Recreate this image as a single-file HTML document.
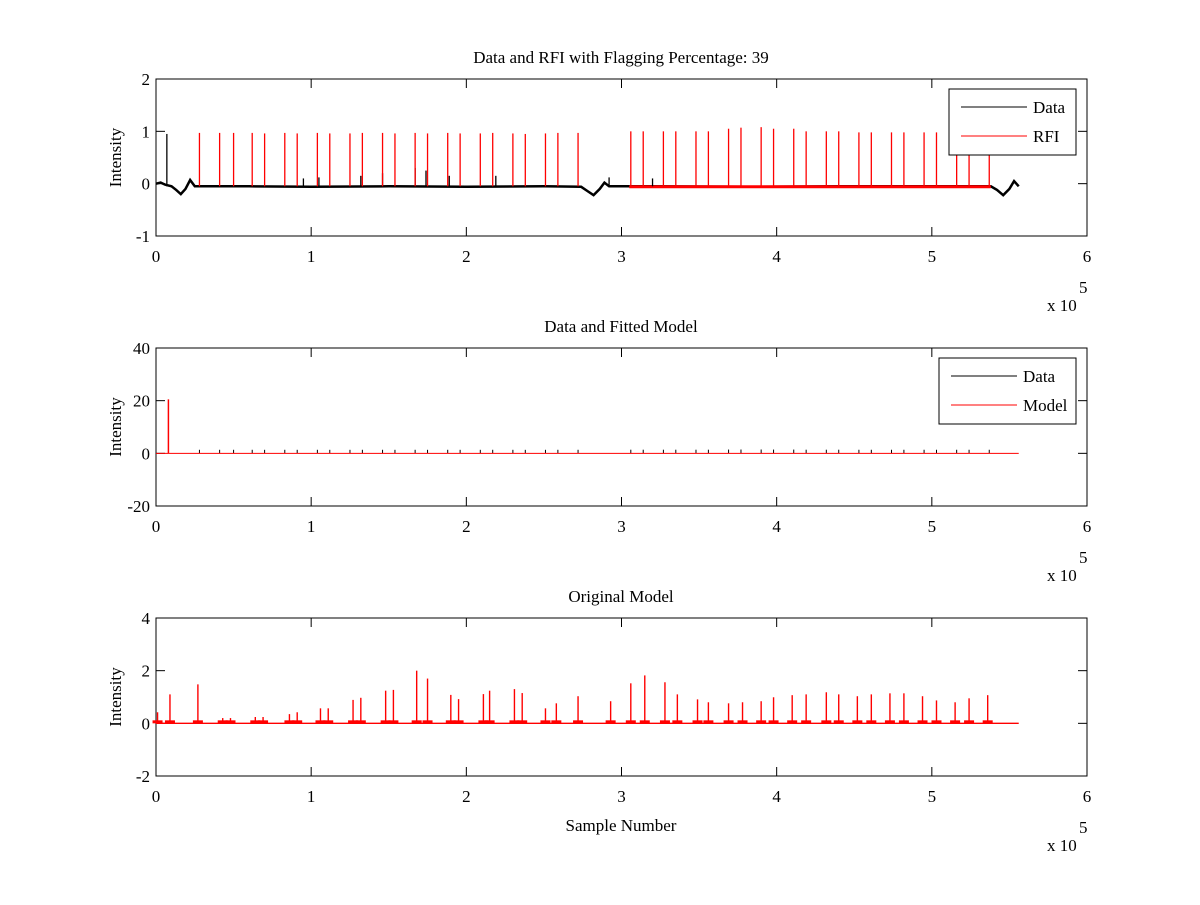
<!DOCTYPE html>
<html><head><meta charset="utf-8"><style>
body{margin:0;background:#fff}
svg text{font-family:"Liberation Serif",serif;font-size:17px;fill:#000}
</style></head><body>
<svg id="fig" width="1200" height="900" viewBox="0 0 1200 900" xmlns="http://www.w3.org/2000/svg">
<rect width="1200" height="900" fill="#fff"/>
<g id="root"></g>
</svg>
<script>
// ---- data (x in units of 1e5 samples) ----
const rfiX = [0.28,0.41,0.50,0.62,0.70,0.83,0.91,1.04,1.12,1.25,1.33,1.46,1.54,1.67,1.75,1.88,1.96,2.09,2.17,2.30,2.38,2.51,2.59,2.72,3.06,3.14,3.27,3.35,3.48,3.56,3.69,3.77,3.90,3.98,4.11,4.19,4.32,4.40,4.53,4.61,4.74,4.82,4.95,5.03,5.16,5.24,5.37];
const rfiY = [0.97,0.97,0.97,0.97,0.96,0.97,0.96,0.97,0.96,0.96,0.97,0.97,0.96,0.97,0.96,0.97,0.96,0.96,0.97,0.96,0.95,0.96,0.97,0.97,1.0,1.0,1.0,1.0,1.0,1.0,1.05,1.07,1.08,1.05,1.05,1.0,1.0,1.0,0.98,0.98,0.98,0.98,0.98,0.98,0.98,0.98,0.98];
const baseX = [0,0.03,0.06,0.10,0.13,0.16,0.19,0.22,0.25,0.6,1.0,1.5,2.0,2.5,2.74,2.78,2.82,2.86,2.89,2.92,3.2,3.8,4.4,5.0,5.38,5.42,5.46,5.50,5.53,5.56];
const baseY = [0.0,0.02,-0.02,-0.05,-0.12,-0.2,-0.1,0.07,-0.05,-0.05,-0.06,-0.05,-0.06,-0.05,-0.06,-0.14,-0.22,-0.1,0.02,-0.05,-0.05,-0.06,-0.05,-0.05,-0.05,-0.12,-0.22,-0.1,0.05,-0.05];
const blackSpikeX = [0.07,0.95,1.05,1.32,1.46,1.67,1.74,1.89,2.19,2.92,3.2];
const blackSpikeY = [0.95,0.1,0.12,0.15,0.2,0.3,0.25,0.15,0.15,0.12,0.1];
const modelSpikeX = [0.08];
const modelSpikeY = [20.5];
const peakX = [0.01,0.09,0.27,0.43,0.48,0.64,0.69,0.86,0.91,1.06,1.11,1.27,1.32,1.48,1.53,1.68,1.75,1.90,1.95,2.11,2.15,2.31,2.36,2.51,2.58,2.72,2.93,3.06,3.15,3.28,3.36,3.49,3.56,3.69,3.78,3.90,3.98,4.10,4.19,4.32,4.40,4.52,4.61,4.73,4.82,4.94,5.03,5.15,5.24,5.36];
const peakY = [0.42,1.1,1.48,0.2,0.2,0.24,0.24,0.35,0.42,0.57,0.57,0.89,0.97,1.24,1.27,2.0,1.7,1.08,0.92,1.11,1.24,1.30,1.15,0.57,0.76,1.03,0.84,1.52,1.82,1.56,1.10,0.91,0.80,0.76,0.80,0.84,0.99,1.07,1.10,1.18,1.10,1.03,1.10,1.14,1.14,1.03,0.87,0.80,0.95,1.07];
const xTicks = [0,1,2,3,4,5,6];

const NS="http://www.w3.org/2000/svg", root=document.getElementById('root');
function mk(tag, attrs, parent){const e=document.createElementNS(NS,tag);for(const k in attrs)e.setAttribute(k,attrs[k]);(parent||root).appendChild(e);return e;}
const X0=156,X1=1087;
const sx = v => X0 + (v/6)*(X1-X0);

function axes(name, top, bot, ymin, ymax, yticks, title){
  const g=mk('g',{});
  
  
  const sy = v => bot - (v-ymin)/(ymax-ymin)*(bot-top);
  const fr=mk('rect',{x:X0,y:top,width:X1-X0,height:bot-top,fill:'none',stroke:'#000','stroke-width':1},g);
  
  
  xTicks.forEach(t=>{
    const x=sx(t);
    mk('line',{x1:x,x2:x,y1:bot,y2:bot-9,stroke:'#000'},g);
    mk('line',{x1:x,x2:x,y1:top,y2:top+9,stroke:'#000'},g);
    const tx=mk('text',{x:x,y:bot+26,'text-anchor':'middle'},g); tx.textContent=t;
    
    
  });
  yticks.forEach(t=>{
    const y=sy(t);
    mk('line',{x1:X0,x2:X0+9,y1:y,y2:y,stroke:'#000'},g);
    mk('line',{x1:X1,x2:X1-9,y1:y,y2:y,stroke:'#000'},g);
    const tx=mk('text',{x:150,y:y+6,'text-anchor':'end'},g); tx.textContent=t;
    
    
  });
  const ex=mk('text',{x:1047,y:bot+75},g); ex.textContent='x 10';
  
  
  const e5=mk('text',{x:1079,y:bot+57,'font-size':'13'},g); e5.textContent='5';
  
  
  const tt=mk('text',{x:621,y:top-16,'text-anchor':'middle'},g); tt.textContent=title;
  
  
  const yl=mk('text',{x:0,y:0,'text-anchor':'middle',transform:`translate(${X0-35},${(top+bot)/2}) rotate(-90)`},g); yl.textContent='Intensity';
  
  
  return {g,sy};
}
function legend(g,x,y,w,entries){
  const lg=mk('g',{},g);
  
  
  mk('rect',{x:x,y:y,width:w,height:66,fill:'#fff',stroke:'#000'},lg);
  entries.forEach((e,i)=>{
    const ly=y+18+i*29;
    mk('line',{x1:x+12,x2:x+78,y1:ly,y2:ly,stroke:e[1]},lg);
    const t=mk('text',{x:x+84,y:ly+6},lg); t.textContent=e[0];
    
    
  });
}

// ---- Top axes ----
let A=axes('rfi-axes',79,236,-1,2,[-1,0,1,2],'Data and RFI with Flagging Percentage: 39');
let sy=A.sy;
let pts=baseX.map((v,i)=>sx(v)+','+sy(baseY[i])).join(' ');
const bl=mk('polyline',{points:pts,fill:'none',stroke:'#000','stroke-width':2.5},A.g);


const rb=mk('polyline',{points:`${sx(3.05)},${sy(-0.06)} ${sx(5.38)},${sy(-0.06)}`,fill:'none',stroke:'#f00','stroke-width':3},A.g);


blackSpikeX.forEach((v,i)=>{
  const l=mk('line',{x1:sx(v),x2:sx(v),y1:sy(-0.05),y2:sy(blackSpikeY[i]),stroke:'#000','stroke-width':1.3},A.g);
  
  
});
rfiX.forEach((v,i)=>{
  const l=mk('line',{x1:sx(v),x2:sx(v),y1:sy(-0.05),y2:sy(rfiY[i]),stroke:'#f00','stroke-width':1.3},A.g);
  
  
});
legend(A.g,949,89,127,[['Data','#000'],['RFI','#f00']]);

// ---- Middle axes ----
A=axes('model-fit-axes',348,506,-20,40,[-20,0,20,40],'Data and Fitted Model');
sy=A.sy;
rfiX.forEach((v,i)=>{
  const l=mk('line',{x1:sx(v),x2:sx(v),y1:sy(0),y2:sy(rfiY[i])-1,stroke:'#000','stroke-width':1},A.g);
  
  
});
const ml=mk('line',{x1:sx(0),x2:sx(5.56),y1:sy(0),y2:sy(0),stroke:'#f00','stroke-width':1},A.g);


modelSpikeX.forEach((v,i)=>{
  const l=mk('line',{x1:sx(v),x2:sx(v),y1:sy(0),y2:sy(modelSpikeY[i]),stroke:'#f00','stroke-width':1.5},A.g);
  
  
});
legend(A.g,939,358,137,[['Data','#000'],['Model','#f00']]);

// ---- Bottom axes ----
A=axes('original-model-axes',618,776,-2,4,[-2,0,2,4],'Original Model');
sy=A.sy;
const ol=mk('line',{x1:sx(0),x2:sx(5.56),y1:sy(0),y2:sy(0),stroke:'#f00','stroke-width':1.3},A.g);


peakX.forEach((v,i)=>{
  const x=sx(v);
  const l=mk('line',{x1:x,x2:x,y1:sy(0),y2:sy(peakY[i]),stroke:'#f00','stroke-width':1.4},A.g);
  
  
  const b=mk('rect',{x:x-5,y:sy(0)-3,width:10,height:3,fill:'#f00'},A.g);
  
  
});
const xl=mk('text',{x:621,y:831,'text-anchor':'middle'},A.g); xl.textContent='Sample Number';


</script>
</body></html>
